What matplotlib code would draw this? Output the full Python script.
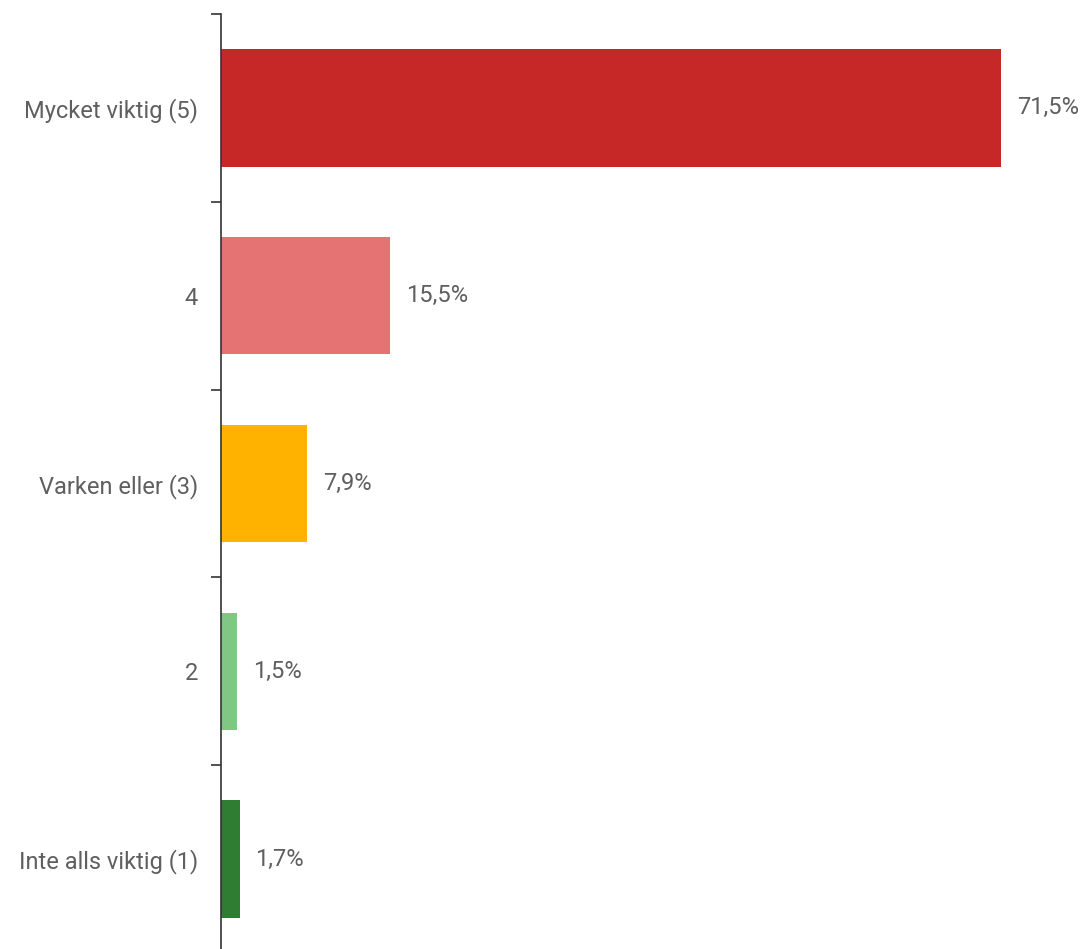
import matplotlib
matplotlib.use("Agg")
import matplotlib.pyplot as plt
import numpy as np

categories = ["Mycket viktig (5)", "4", "Varken eller (3)", "2", "Inte alls viktig (1)"]
values = [71.5, 15.5, 7.9, 1.5, 1.7]
value_labels = ["71,5%", "15,5%", "7,9%", "1,5%", "1,7%"]
colors = ["#C62828", "#E57373", "#FFB300", "#81C784", "#2E7D32"]

plt.rcParams['font.family'] = ['Roboto', 'DejaVu Sans']

W, H = 1084, 949
fig = plt.figure(figsize=(W / 100, H / 100), dpi=100)
top_px, bot_px, left_px = 14, 953, 221
ax = fig.add_axes([left_px / W, (H - bot_px) / H, 1 - left_px / W, (bot_px - top_px) / H])

n = len(categories)
y = np.arange(n)
ax.barh(y, values, height=0.625, color=colors)
ax.set_ylim(n - 0.5, -0.5)
ax.set_xlim(0, 79.1)

for yi, v, lab in zip(y, values, value_labels):
    ax.annotate(lab, (v, yi), xytext=(16, 0), textcoords="offset pixels",
                va="center", ha="left", fontsize=17, color="#5f5f5f")

ax.set_yticks(y)
ax.set_yticklabels(categories, fontsize=17, color="#5f5f5f")
ax.tick_params(axis="y", which="major", length=0, pad=16.5)
ax.set_yticks(np.arange(-0.5, n, 1.0), minor=True)
ax.tick_params(axis="y", which="minor", length=7, width=1.2, color="#333333")
ax.set_xticks([])
for s in ["top", "right", "bottom"]:
    ax.spines[s].set_visible(False)
ax.spines["left"].set_color("#333333")
ax.spines["left"].set_linewidth(1.2)

fig.savefig("out.png", dpi=100)
